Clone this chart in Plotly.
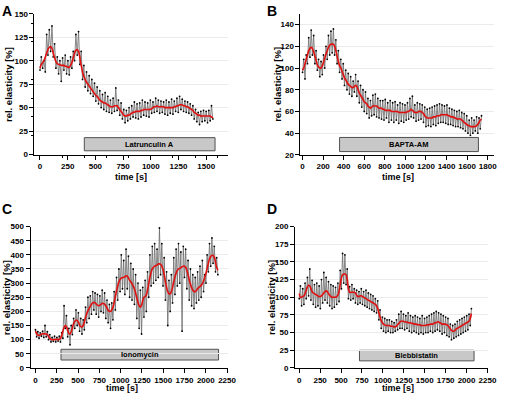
import plotly.graph_objects as go

# ---------------- DATA ----------------
# Panel A (Latrunculin A), sampling 12 s
a_dt = 12
a_raw = [90,104,92,100,88,128,106,133,110,137,104,118,92,104,86,100,78,103,90,106,86,100,85,104,92,110,100,128,106,131,
         96,110,80,95,72,88,68,84,65,80,62,76,57,72,54,68,50,64,48,66,46,62,45,58,44,60,46,71,47,58,
         42,55,38,48,34,47,36,50,38,52,40,56,39,54,38,55,40,58,42,56,41,55,40,58,44,56,45,60,46,58,
         44,57,45,56,43,58,42,56,44,59,43,57,46,60,45,62,48,59,46,57,45,56,44,54,42,52,38,48,35,45,
         32,46,35,47,36,46,34,47,36,52,38]
a_fit = [92,96,98,100,104,108,112,114,115,113,108,103,99,97,96,96,95,95,95,94,94,93,93,95,98,103,108,111,112,110,
         103,95,88,83,80,77,75,73,71,69,67,65,63,62,60,58,57,56,55,55,54,53,52,51,51,51,52,52,52,50,
         48,46,44,42,41,41,42,42,43,44,45,45,46,46,46,46,47,47,48,48,48,48,48,48,49,50,51,51,52,51,
         51,51,51,51,50,50,50,50,50,50,50,51,51,52,52,53,53,53,52,52,51,51,50,49,48,47,45,44,43,42,
         42,41,41,41,41,41,41,41,41,40,39]

# Panel B (BAPTA-AM), sampling 12 s
b_dt = 12
b_raw = [96,108,90,112,104,128,110,135,112,130,104,116,98,108,92,106,94,112,100,120,108,130,112,134,114,136,112,126,104,116,
         96,108,90,104,84,98,80,95,76,92,74,88,78,94,74,88,68,84,64,80,60,78,58,72,54,70,56,75,57,76,
         55,72,54,70,53,70,52,71,54,68,50,70,52,68,50,69,52,66,49,68,51,67,50,66,52,68,53,72,55,74,
         54,66,51,68,52,67,53,66,50,64,46,62,47,63,46,64,48,65,47,66,49,67,50,66,50,65,49,66,48,63,
         48,62,47,61,46,60,46,61,45,59,44,58,42,56,40,52,38,54,40,52,42,55,40,54,44,56]
b_fit = [98,100,104,108,112,116,118,119,118,115,111,107,103,101,100,100,102,105,109,113,116,119,121,122,122,122,120,116,111,106,
         102,100,97,94,91,89,87,85,84,83,82,82,83,84,83,80,77,75,73,71,69,68,67,65,64,63,64,65,65,65,
         65,64,63,63,63,62,62,61,61,61,61,61,60,60,60,60,60,60,59,59,59,59,59,59,59,60,60,61,62,61,
         60,59,59,59,60,60,60,59,58,56,55,54,54,54,54,54,55,55,55,56,56,56,57,57,57,57,57,57,56,56,
         55,55,55,54,54,53,53,53,53,52,51,50,49,48,47,47,46,46,46,46,46,47,48,50,52,53]

# Panel C (Ionomycin), sampling 14 s
c_dt = 14
c_raw = [135,110,128,105,124,112,130,108,150,110,128,100,118,92,108,94,112,92,108,95,112,92,125,105,220,140,185,110,140,82,
         150,118,175,140,205,150,195,130,175,120,170,135,215,160,250,175,255,190,270,205,265,190,260,180,255,200,275,195,265,175,
         240,160,225,140,230,170,270,205,320,240,350,270,400,280,380,260,420,280,395,250,370,240,350,225,330,175,300,140,275,120,
         285,180,310,200,340,250,400,290,430,300,440,310,420,320,495,330,440,290,390,240,340,150,310,200,330,230,390,260,420,290,
         440,300,410,130,430,320,420,280,380,240,350,220,330,210,320,230,340,240,360,250,380,270,330,300,400,340,440,360,460,370,
         430,340,390,330]
c_fit = [130,122,116,115,117,119,121,121,120,120,118,112,105,101,100,100,100,101,101,100,101,105,115,130,143,150,146,134,122,120,
         128,142,156,165,169,168,162,152,146,145,150,162,178,192,202,210,218,225,230,232,230,226,222,220,222,225,228,228,226,220,
         212,204,200,200,205,215,232,252,272,290,305,313,318,320,320,322,326,325,318,310,305,298,290,280,265,248,232,220,215,222,
         238,250,252,258,275,298,320,338,350,356,360,362,364,368,368,366,360,348,330,305,285,270,262,262,270,285,305,322,335,345,
         350,352,355,358,360,360,356,345,330,312,296,284,275,270,270,274,280,285,288,292,298,308,320,335,352,370,385,394,398,398,
         392,375,355,345]

# Panel D (Blebbistatin), sampling 14 s
d_dt = 14
d_raw = [98,116,88,112,90,120,98,128,102,140,96,124,90,118,86,120,88,116,84,125,92,135,96,128,92,122,88,118,84,116,
         86,114,90,120,94,138,112,162,120,160,118,140,98,115,96,118,98,112,92,110,90,108,92,112,90,108,88,110,86,106,
         84,104,82,102,80,98,78,95,68,82,56,72,52,70,50,68,52,68,50,66,50,64,52,68,54,76,56,80,56,76,
         54,74,56,78,52,74,50,72,52,74,50,72,48,70,50,74,48,70,50,72,50,74,52,76,50,78,52,80,54,78,
         52,76,48,74,50,72,46,70,44,62,40,60,42,62,44,66,46,68,48,70,50,72,52,74,54,76,60,84]
d_fit = [105,100,100,101,102,105,110,115,117,116,112,108,106,105,104,103,102,101,101,102,104,106,108,109,108,105,103,101,100,100,
         100,100,101,103,108,118,127,132,133,133,132,125,112,107,107,107,107,107,106,103,101,101,102,102,101,100,99,98,97,96,
         95,94,93,92,91,90,88,84,78,72,67,64,62,61,60,60,60,60,59,59,59,58,58,59,61,63,65,66,66,66,
         65,65,65,64,64,64,63,63,62,62,62,61,61,61,60,60,60,60,60,61,61,61,62,62,62,63,64,64,65,65,
         64,63,62,62,62,62,61,60,58,55,53,52,52,53,55,56,57,58,59,60,61,62,63,64,65,66,70,77]

treatments = ["Latrunculin A", "BAPTA-AM", "Ionomycin", "Blebbistatin"]
treat_start = [400, 360, 300, 720]
treat_end = [1580, 1710, 2150, 2090]
panel_letters = ["A", "B", "C", "D"]

x_ticks = [[0, 250, 500, 750, 1000, 1250, 1500],
           [0, 200, 400, 600, 800, 1000, 1200, 1400, 1600, 1800],
           [0, 250, 500, 750, 1000, 1250, 1500, 1750, 2000, 2250],
           [0, 250, 500, 750, 1000, 1250, 1500, 1750, 2000, 2250]]
y_ticks = [[0, 25, 50, 75, 100, 125, 150],
           [20, 40, 60, 80, 100, 120, 140],
           [0, 50, 100, 150, 200, 250, 300, 350, 400, 450, 500],
           [0, 25, 50, 75, 100, 125, 150, 175, 200]]

# ---------------- LAYOUT CONFIG ----------------
W, H = 506, 400
panels = [
    dict(xd=(35, 232), yd=(10, 154), xr=(-50, 1700), yr=(0, 150), bar=(4, 18),
         ytitle_x=8, xtitle=(133, 177), letter=(7, 7)),
    dict(xd=(305.3, 502.3), yd=(10, 154.3), xr=(-20, 1865), yr=(20, 150), bar=(23, 36),
         ytitle_x=282, xtitle=(404, 177), letter=(276, 7)),
    dict(xd=(31, 232), yd=(227.7, 372.3), xr=(-58, 2265), yr=(0, 500), bar=(28, 66),
         ytitle_x=6, xtitle=(124, 393), letter=(7, 210)),
    dict(xd=(299.7, 496.3), yd=(227.7, 372.3), xr=(-51, 2262), yr=(0, 200), bar=(10, 25),
         ytitle_x=276, xtitle=(404, 393), letter=(276, 210)),
]

raws = [a_raw, b_raw, c_raw, d_raw]
fits = [a_fit, b_fit, c_fit, d_fit]
dts = [a_dt, b_dt, c_dt, d_dt]

FONT = "Liberation Sans, Arial, sans-serif"

fig = go.Figure()
layout = dict(width=W, height=H, margin=dict(l=0, r=0, t=0, b=0),
              paper_bgcolor="white", plot_bgcolor="white", showlegend=False,
              font=dict(family=FONT, color="black"))
shapes = []
annotations = []

for i, p in enumerate(panels):
    k = "" if i == 0 else str(i + 1)
    xa, ya = "x" + k, "y" + k
    t = [dts[i] * j for j in range(len(raws[i]))]
    tf = [dts[i] * j for j in range(len(fits[i]))]
    fig.add_trace(go.Scatter(x=t, y=raws[i], mode="lines+markers", xaxis=xa, yaxis=ya,
                             line=dict(color="#6a6a6a", width=0.8),
                             marker=dict(color="black", size=1.8)))
    fig.add_trace(go.Scatter(x=tf, y=fits[i], mode="lines", xaxis=xa, yaxis=ya,
                             line=dict(color="#e01010", width=1.6, shape="spline")))
    xd = [p["xd"][0] / W, p["xd"][1] / W]
    yd = [1 - p["yd"][1] / H, 1 - p["yd"][0] / H]
    axis_common = dict(showline=True, linecolor="black", linewidth=1, ticks="outside",
                       ticklen=4, tickwidth=1, tickcolor="black", zeroline=False,
                       tickfont=dict(family=FONT, size=8, color="black", weight="bold"),
                       minor=dict(ticks="outside", ticklen=2, tickcolor="black", nticks=2))
    layout["xaxis" + k] = dict(domain=xd, anchor=ya, range=list(p["xr"]), tickvals=x_ticks[i],
                               showgrid=False, **axis_common)
    layout["yaxis" + k] = dict(domain=yd, anchor=xa, range=list(p["yr"]), tickvals=y_ticks[i],
                               showgrid=True, gridcolor="#ebebeb", gridwidth=1, **axis_common)
    shapes.append(dict(type="rect", xref=xa, yref=ya, x0=treat_start[i], x1=treat_end[i],
                       y0=p["bar"][0], y1=p["bar"][1], fillcolor="#c8c8c8",
                       line=dict(color="#505050", width=1), layer="below"))
    annotations.append(dict(xref=xa, yref=ya, x=(treat_start[i] + treat_end[i]) / 2,
                            y=(p["bar"][0] + p["bar"][1]) / 2, text="<b>%s</b>" % treatments[i],
                            showarrow=False, font=dict(family=FONT, size=7.5, color="black")))
    annotations.append(dict(xref="paper", yref="paper", x=p["ytitle_x"] / W,
                            y=1 - (p["yd"][0] + p["yd"][1]) / 2 / H, text="<b>rel. elasticity [%]</b>",
                            textangle=-90, showarrow=False, xanchor="center", yanchor="middle",
                            font=dict(family=FONT, size=9.5, color="black")))
    annotations.append(dict(xref="paper", yref="paper", x=p["xtitle"][0] / W,
                            y=1 - p["xtitle"][1] / H, text="<b>time [s]</b>",
                            showarrow=False, xanchor="center", yanchor="middle",
                            font=dict(family=FONT, size=9, color="black")))
    annotations.append(dict(xref="paper", yref="paper", x=p["letter"][0] / W,
                            y=1 - p["letter"][1] / H, text="<b>%s</b>" % panel_letters[i],
                            showarrow=False, xanchor="center", yanchor="middle",
                            font=dict(family=FONT, size=14, color="black")))

layout["shapes"] = shapes
layout["annotations"] = annotations
fig.update_layout(**layout)
fig.write_html("out.html", config={"displayModeBar": False},
               post_script="document.body.style.margin='0';document.body.style.padding='0';document.body.style.overflow='hidden';")
